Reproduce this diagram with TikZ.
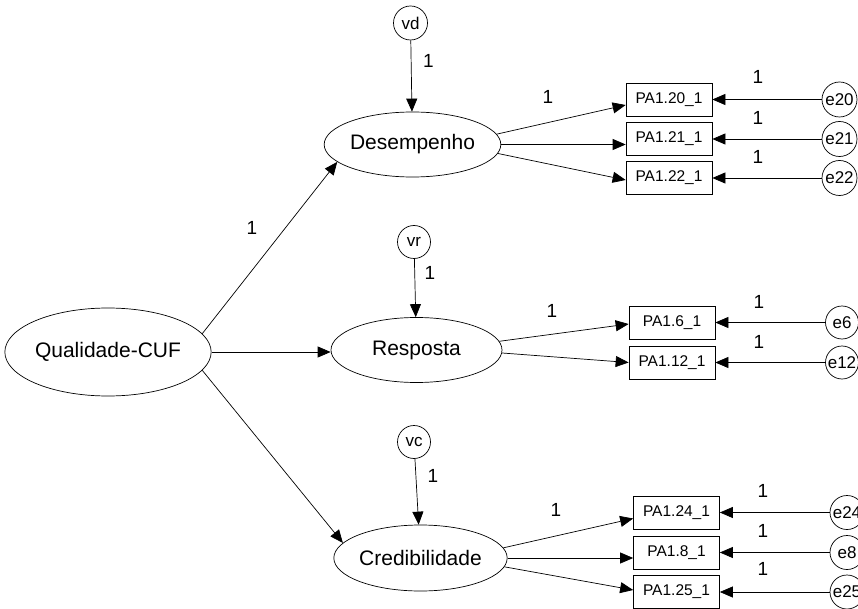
\documentclass[tikz,border=0pt]{standalone}
\usepackage{fontspec}
\setmainfont{Liberation Sans}
\usetikzlibrary{shapes.geometric,arrows.meta}
\begin{document}
\begin{tikzpicture}[x=1pt,y=-1pt,
  line width=0.7pt,
  latent/.style={draw,ellipse,inner sep=0pt,font=\fontsize{21}{21}\selectfont},
  obs/.style={draw,rectangle,minimum width=86pt,minimum height=33pt,inner sep=0pt,font=\fontsize{15.5}{16}\selectfont},
  err/.style={draw,circle,minimum size=34pt,inner sep=0pt,font=\fontsize{17}{17}\selectfont},
  lbl/.style={font=\fontsize{19}{19}\selectfont,inner sep=0pt},
  arr/.style={-{Triangle[length=13pt,width=11pt]}}]
\useasboundingbox (0,0) rectangle (858,609);

% latent variables
\node[latent,minimum width=196pt,minimum height=88pt] (Q) at (108,352) {Qualidade-CUF};
\node[latent,minimum width=169pt,minimum height=65pt] (D) at (412.5,144.5) {Desempenho};
\node[latent,minimum width=171pt,minimum height=65pt] (R) at (416.5,350) {Resposta};
\node[latent,minimum width=171pt,minimum height=66pt] (C) at (420.5,558) {Credibilidade};

% disturbances
\node[err] (vd) at (410.5,23) {vd};
\node[err,minimum size=33pt] (vr) at (414,242) {vr};
\node[err,minimum size=33pt] (vc) at (414,442) {vc};

% observed
\node[obs] (b20) at (669,99.5) {PA1.20\_1};
\node[obs] (b21) at (669,139) {PA1.21\_1};
\node[obs] (b22) at (669,178) {PA1.22\_1};
\node[obs] (b6) at (672,322.5) {PA1.6\_1};
\node[obs] (b12) at (672,362.5) {PA1.12\_1};
\node[obs] (b24) at (676.5,512.5) {PA1.24\_1};
\node[obs] (b8) at (676.5,552.5) {PA1.8\_1};
\node[obs] (b25) at (676.5,592) {PA1.25\_1};

% errors
\node[err,minimum size=35pt] (e20) at (839.5,99.5) {e20};
\node[err,minimum size=35pt] (e21) at (839.5,139) {e21};
\node[err,minimum size=35pt] (e22) at (839.5,178) {e22};
\node[err,minimum size=33pt] (e6) at (842,322.5) {e6};
\node[err,minimum size=33pt] (e12) at (842,362.5) {e12};
\node[err] (e24) at (847,512.5) {e24};
\node[err] (e8) at (847,552.5) {e8};
\node[err] (e25) at (847,592) {e25};

% structural paths
\draw[arr] (Q.11) -- (D.193);
\draw[arr] (Q.east) -- (Q.east -| R.west);
\draw[arr] (Q.-11) -- (C.169);

% disturbance paths
\draw[arr] (vd) -- (D);
\draw[arr] (vr) -- (R);
\draw[arr] (vc) -- (C);

% loadings
\draw[arr] (D.7) -- ([yshift=-5.5pt]b20.west);
\draw[arr] (D.east) -- (D.east -| b21.west);
\draw[arr] (D.-6) -- ([yshift=-2pt]b22.west);
\draw[arr] (R.6) -- ([yshift=-1.5pt]b6.west);
\draw[arr] (R.-2) -- (b12.west);
\draw[arr] (C.7) -- ([yshift=-6pt]b24.west);
\draw[arr] (C.east) -- (C.east -| b8.west);
\draw[arr] (C.-6) -- ([yshift=2pt]b25.west);

% error paths
\foreach \e/\b in {e20/b20,e21/b21,e22/b22,e6/b6,e12/b12,e24/b24,e8/b8,e25/b25}
  \draw[arr] (\e) -- (\b);

% labels
\node[lbl] (l1) at (252,228) {1};
\node[lbl] (l2) at (428.5,61) {1};
\node[lbl] (l3) at (430,273) {1};
\node[lbl] (l4) at (433,476) {1};
\node[lbl] (l5) at (548,97) {1};
\node[lbl] (l6) at (552,311) {1};
\node[lbl] (l7) at (556,510) {1};
\node[lbl] (l8) at (758,77) {1};
\node[lbl] (l9) at (758,118) {1};
\node[lbl] (l10) at (758,157) {1};
\node[lbl] (l11) at (759,302) {1};
\node[lbl] (l12) at (759,342) {1};
\node[lbl] (l13) at (763,491) {1};
\node[lbl] (l14) at (763,531) {1};
\node[lbl] (l15) at (763,569) {1};
\end{tikzpicture}
\end{document}
